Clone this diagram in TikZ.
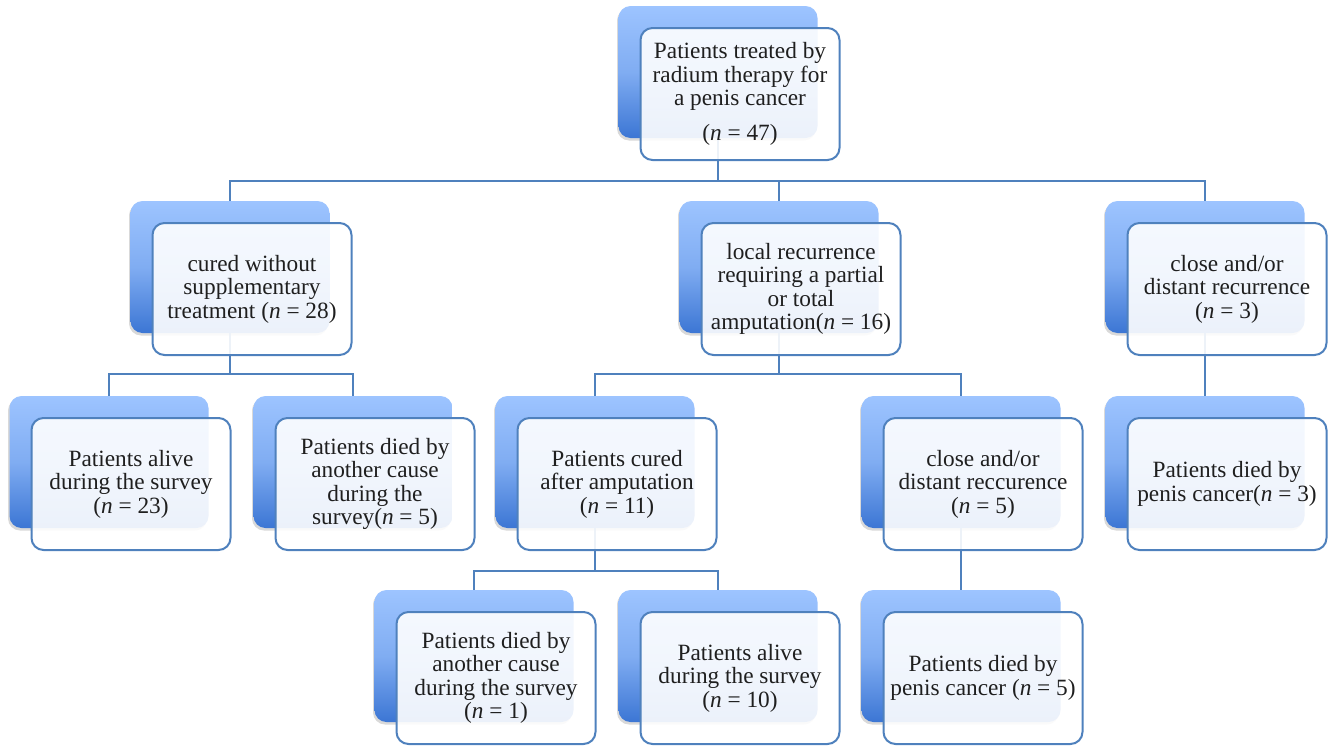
\documentclass[tikz,border=0pt]{standalone}
\usepackage{fontspec}
\setmainfont{Liberation Serif}
\usetikzlibrary{shadows}
\definecolor{linkblue}{RGB}{79,129,189}
\definecolor{bgtop}{RGB}{157,196,255}
\definecolor{bgbot}{RGB}{60,118,212}
\newcommand{\nn}{\textit{n}}
\begin{document}
\begin{tikzpicture}[x=1pt, y=-1pt]
\tikzset{backbox/.style={rectangle, rounded corners=12pt, minimum width=199pt, minimum height=132pt, top color=bgtop, bottom color=bgbot, middle color=bgtop!70!bgbot, drop shadow={shadow xshift=-1.5pt, shadow yshift=-2.5pt, opacity=0.3}},
  frontbox/.style={rectangle, rounded corners=12pt, minimum width=199pt, minimum height=132pt, draw=linkblue, line width=2pt, fill=white, fill opacity=0.9, text opacity=1, text=black!88, align=center, inner sep=0pt, font=\fontsize{23.3}{23.5}\selectfont},
  link/.style={draw=linkblue, line width=2.2pt}}
\useasboundingbox (0,0) rectangle (1331,747);
\node[backbox] (topbg) at (718,72) {};
\node[backbox] (curedbg) at (230,267) {};
\node[backbox] (localbg) at (779,267) {};
\node[backbox] (closebg) at (1205,267) {};
\node[backbox] (alivebg) at (109,462) {};
\node[backbox] (otherbg) at (353,462) {};
\node[backbox] (ampbg) at (595,462) {};
\node[backbox] (reccbg) at (961,462) {};
\node[backbox] (diedbg) at (1205,462) {};
\node[backbox] (amponebg) at (474,656) {};
\node[backbox] (amptenbg) at (718,656) {};
\node[backbox] (reccfivebg) at (961,656) {};
\draw[link] (topbg.south) -- ++(0,43) -| (curedbg.north);
\draw[link] (topbg.south) ++(0,43) -| (localbg.north);
\draw[link] (topbg.south) ++(0,43) -| (closebg.north);
\draw[link] (curedbg.south) -- ++(0,41) -| (alivebg.north);
\draw[link] (curedbg.south) ++(0,41) -| (otherbg.north);
\draw[link] (localbg.south) -- ++(0,41) -| (ampbg.north);
\draw[link] (localbg.south) ++(0,41) -| (reccbg.north);
\draw[link] (closebg.south) -- (diedbg.north);
\draw[link] (ampbg.south) -- ++(0,43) -| (amponebg.north);
\draw[link] (ampbg.south) ++(0,43) -| (amptenbg.north);
\draw[link] (reccbg.south) -- (reccfivebg.north);
\node[frontbox] (top) at ([shift={(22,22)}]topbg) {Patients treated by\\radium therapy for\\a penis cancer\\[11pt](\nn{} = 47)};
\node[frontbox] (cured) at ([shift={(22,22)}]curedbg) {cured without\\supplementary\\treatment (\nn{} = 28)};
\node[frontbox] (local) at ([shift={(22,22)}]localbg) {local recurrence\\requiring a partial\\or total\\amputation(\nn{} = 16)};
\node[frontbox] (close) at ([shift={(22,22)}]closebg) {close and/or\\distant recurrence\\(\nn{} = 3)};
\node[frontbox] (alive) at ([shift={(22,22)}]alivebg) {Patients alive\\during the survey\\(\nn{} = 23)};
\node[frontbox] (other) at ([shift={(22,22)}]otherbg) {Patients died by\\another cause\\during the\\survey(\nn{} = 5)};
\node[frontbox] (amp) at ([shift={(22,22)}]ampbg) {Patients cured\\after amputation\\(\nn{} = 11)};
\node[frontbox] (recc) at ([shift={(22,22)}]reccbg) {close and/or\\distant reccurence\\(\nn{} = 5)};
\node[frontbox] (died) at ([shift={(22,22)}]diedbg) {Patients died by\\penis cancer(\nn{} = 3)};
\node[frontbox] (ampone) at ([shift={(22,22)}]amponebg) {Patients died by\\another cause\\during the survey\\(\nn{} = 1)};
\node[frontbox] (ampten) at ([shift={(22,22)}]amptenbg) {Patients alive\\during the survey\\(\nn{} = 10)};
\node[frontbox] (reccfive) at ([shift={(22,22)}]reccfivebg) {Patients died by\\penis cancer (\nn{} = 5)};
\end{tikzpicture}
\end{document}
